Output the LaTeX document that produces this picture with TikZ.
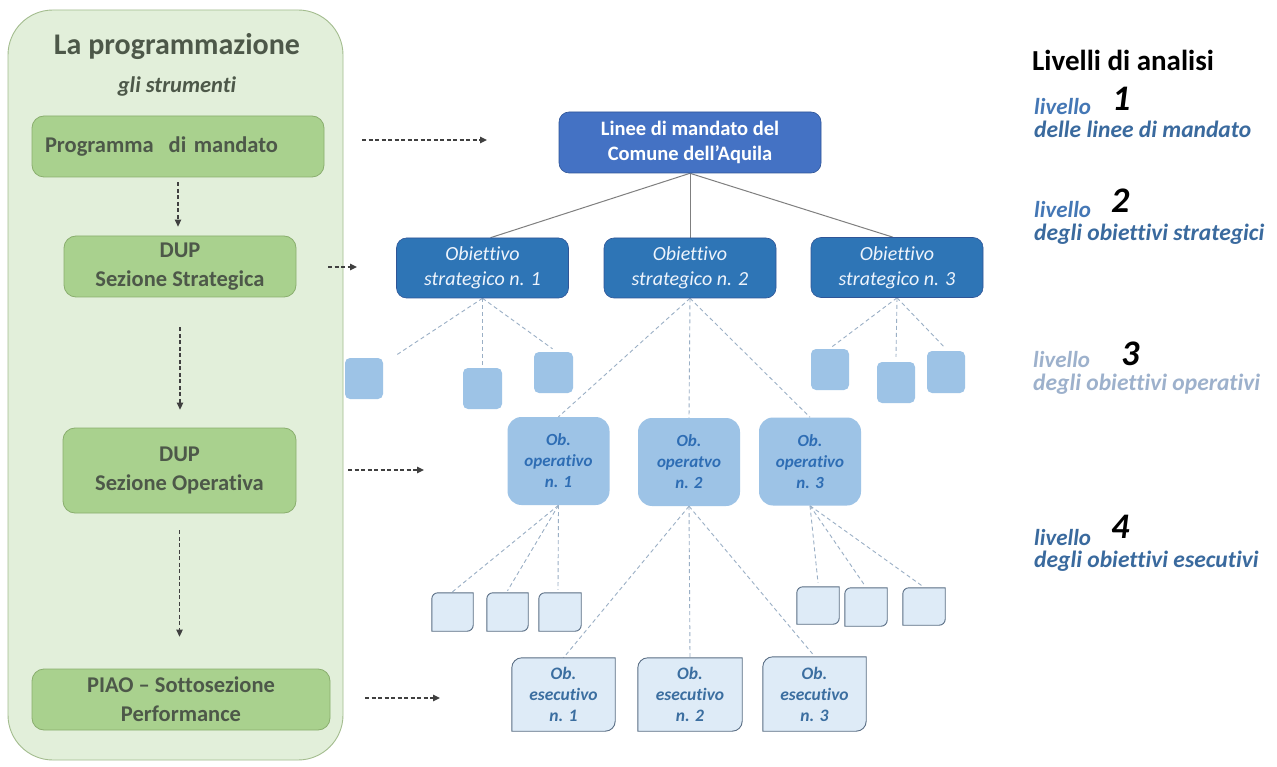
\documentclass[tikz,border=0pt]{standalone}
\usepackage{fontspec}
\setmainfont{Carlito}[Ligatures=NoCommon]
\usetikzlibrary{arrows.meta,backgrounds}
\definecolor{panelfill}{HTML}{E2EFDA}
\definecolor{panelline}{HTML}{A3BC8E}
\definecolor{gfill}{HTML}{A9D18E}
\definecolor{gline}{HTML}{8AAE6E}
\definecolor{gtext}{HTML}{4D5849}
\definecolor{topblue}{HTML}{4472C4}
\definecolor{stratblue}{HTML}{2E75B6}
\definecolor{bline}{HTML}{2F5597}
\definecolor{opfill}{HTML}{9DC3E6}
\definecolor{optext}{HTML}{2E6DB4}
\definecolor{exfill}{HTML}{DEEBF7}
\definecolor{exline}{HTML}{5A6E85}
\definecolor{extext}{HTML}{3B6EA0}
\definecolor{dashc}{HTML}{9AAFC5}
\definecolor{solidc}{HTML}{7F7F7F}
\definecolor{arrc}{HTML}{404040}
\definecolor{lvlA}{HTML}{4477B5}
\definecolor{lvlB}{HTML}{3A6A9E}
\definecolor{lvlC}{HTML}{9DB1CC}
\definecolor{stext}{HTML}{EEF4FC}
\newcommand\diagrect[3]{%
  \path[#1] ([yshift=-#3]#2.north west) arc[start angle=180,end angle=90,radius=#3]
    -- (#2.north east) -- ([yshift=#3]#2.south east)
    arc[start angle=0,end angle=-90,radius=#3] -- (#2.south west) -- cycle;}
\tikzset{
  panel/.style={draw=panelline, fill=panelfill, line width=0.9pt, rounded corners=45pt,
    minimum width=335pt, minimum height=750pt, inner sep=0pt},
  ttl/.style={text=gtext, font=\fontsize{30}{34}\selectfont\bfseries, inner sep=0pt},
  subttl/.style={text=gtext, font=\fontsize{22.5}{26}\selectfont\bfseries\itshape, inner sep=0pt},
  gbox/.style={draw=gline, fill=gfill, line width=0.8pt, rounded corners=12pt, text=gtext,
    font=\fontsize{22.5}{29}\selectfont\bfseries, align=center, inner sep=0pt, minimum height=61pt},
  topbox/.style={draw=bline, fill=topblue, line width=0.6pt, rounded corners=10pt, text=white,
    font=\fontsize{20.5}{25}\selectfont\bfseries, align=center, inner sep=0pt,
    minimum width=262pt, minimum height=61pt},
  sbox/.style={draw=bline, fill=stratblue, line width=0.6pt, rounded corners=10pt, text=stext,
    font=\fontsize{20}{25}\selectfont\itshape, align=center, inner sep=0pt,
    minimum width=172pt, minimum height=60pt},
  opbox/.style={fill=opfill, rounded corners=14pt, text=optext,
    font=\fontsize{17}{21}\selectfont\bfseries\itshape, align=center, inner sep=0pt,
    minimum width=102pt, minimum height=88pt},
  msq/.style={fill=opfill, rounded corners=5pt, minimum width=38pt, minimum height=41pt, inner sep=0pt},
  lsq/.style={minimum width=42pt, minimum height=38pt, inner sep=0pt},
  exbox/.style={text=extext, font=\fontsize{17.5}{21}\selectfont\bfseries\itshape, align=center,
    inner sep=0pt, minimum width=103pt, minimum height=73pt},
  exshape/.style={draw=exline, fill=exfill, line width=0.9pt},
  dcon/.style={draw=dashc, line width=0.9pt, dash pattern=on 4pt off 3pt},
  scon/.style={draw=solidc, line width=1pt},
  darr/.style={draw=arrc, line width=1.3pt, dash pattern=on 4pt off 2.5pt,
    -{Triangle[length=7pt,width=6.5pt]}},
  lvtitle/.style={anchor=base west, inner sep=0pt, font=\fontsize{29}{32}\selectfont\bfseries},
  lvw/.style={anchor=base west, inner sep=0pt, font=\fontsize{23}{26}\selectfont\bfseries\itshape},
  lvn/.style={anchor=base west, inner sep=0pt, font=\fontsize{36}{40}\selectfont\bfseries\itshape},
  lvd/.style={anchor=base west, inner sep=0pt, font=\fontsize{23.5}{27}\selectfont\bfseries\itshape},
}
\begin{document}
\begin{tikzpicture}[x=1pt,y=-1pt]
\useasboundingbox (0,0) rectangle (1277,767);

% ---- left column nodes
\node[ttl] (title) at (177,47) {La programmazione};
\node[subttl] (subt) at (177,87) {gli strumenti};
\node[gbox, minimum width=292pt, text width=266pt, inner xsep=13pt, align=left] (pm) at (178,146.5) {Programma\ \ di mandato};
\node[gbox, minimum width=232pt] (ss) at (180,266.5) {DUP\\Sezione Strategica};
\node[gbox, minimum width=233pt, minimum height=85pt] (so) at (179.5,470.5) {DUP\\Sezione Operativa};
\node[gbox, minimum width=298pt] (piao) at (181,699.5) {PIAO – Sottosezione\\Performance};

% ---- tree nodes
\node[topbox] (top) at (690,142.5) {Linee di mandato del\\Comune dell’Aquila};
\node[sbox] (s1) at (482.5,268) {Obiettivo\\strategico n. 1};
\node[sbox] (s2) at (690,268) {Obiettivo\\strategico n. 2};
\node[sbox] (s3) at (897,267.5) {Obiettivo\\strategico n. 3};

\node[msq] (qa) at (364,378.5) {};
\node[msq, minimum width=39pt] (qb) at (482.5,388.5) {};
\node[msq, minimum width=39pt] (qc) at (553.5,372.5) {};
\node[msq] (qd) at (830,369.5) {};
\node[msq] (qe) at (896,382.5) {};
\node[msq, minimum height=42pt] (qf) at (946,372) {};

\node[opbox] (op1) at (558.5,461) {Ob.\\operativo\\n. 1};
\node[opbox] (op2) at (689,462) {Ob.\\operatvo\\n. 2};
\node[opbox] (op3) at (810,461.5) {Ob.\\operativo\\n. 3};

\node[lsq, minimum width=41pt] (lj) at (452.5,612) {};
\node[lsq, minimum width=41pt] (lk) at (507.5,612) {};
\node[lsq] (ll) at (560,612) {};
\node[lsq, minimum height=37pt] (lg) at (818,605.5) {};
\node[lsq] (lh) at (866,607) {};
\node[lsq, minimum height=37pt] (li) at (924,606.5) {};

\node[exbox] (ex1) at (563.5,694.5) {Ob.\\esecutivo\\n. 1};
\node[exbox, minimum width=104pt] (ex2) at (690,694.5) {Ob.\\esecutivo\\n. 2};
\node[exbox, minimum height=74pt] (ex3) at (814.5,694) {Ob.\\esecutivo\\n. 3};

% ---- background: panel, connectors, shapes
\begin{scope}[on background layer]
  \fill[white] (0,0) rectangle (1277,767);
  \node[panel] (pan) at (175.5,385) {};
  \draw[scon] (top.south) -- ([xshift=8pt]s1.north);
  \draw[scon] (top.south) -- (s2.north);
  \draw[scon] (top.south) -- ([xshift=-4pt]s3.north);

  \draw[dcon] (s1.south) -- ([xshift=12pt,yshift=2pt]qa.north east);
  \draw[dcon] (s1.south) -- ([yshift=3pt]qb.north);
  \draw[dcon] (s1.south) -- ([xshift=-1pt,yshift=3pt]qc.north);
  \draw[dcon] (s3.south) -- ([xshift=2pt,yshift=2pt]qd.north);
  \draw[dcon] (s3.south) -- ([yshift=5pt]qe.north);
  \draw[dcon] (s3.south) -- ([xshift=-2pt,yshift=4pt]qf.north);

  \draw[dcon] (s2.south) -- (op1.north);
  \draw[dcon] (s2.south) -- (op2.north);
  \draw[dcon] (s2.south) -- (op3.north);

  \draw[dcon] (op1.south) -- ([yshift=1pt]lj.north);
  \draw[dcon] (op1.south) -- ([yshift=2pt]lk.north);
  \draw[dcon] (op1.south) -- ([xshift=-2pt,yshift=3pt]ll.north);
  \draw[dcon] (op3.south) -- ([yshift=4pt]lg.north);
  \draw[dcon] (op3.south) -- ([xshift=-1pt,yshift=2pt]lh.north);
  \draw[dcon] (op3.south) -- ([xshift=-2pt,yshift=2pt]li.north);

  \draw[dcon] (op2.south) -- (ex1.north);
  \draw[dcon] (op2.south) -- (ex2.north);
  \draw[dcon] (op2.south) -- ([xshift=-2pt,yshift=3pt]ex3.north);

  \diagrect{exshape}{lj}{6pt}
  \diagrect{exshape}{lk}{6pt}
  \diagrect{exshape}{ll}{6pt}
  \diagrect{exshape}{lg}{6pt}
  \diagrect{exshape}{lh}{6pt}
  \diagrect{exshape}{li}{6pt}
  \diagrect{exshape}{ex1}{10pt}
  \diagrect{exshape}{ex2}{10pt}
  \diagrect{exshape}{ex3}{10pt}
\end{scope}

% ---- dashed arrows
\draw[darr] ([yshift=-5pt]pm.south) -- ([yshift=9pt]pm.south |- ss.north);
\draw[darr] ([yshift=-30pt]ss.south) -- ([yshift=18pt]ss.south |- so.north);
\draw[darr] ([yshift=-17pt]so.south) -- ([yshift=32pt]so.south |- piao.north);

\coordinate (h1s) at (362,140); \coordinate (h1e) at (487,140);
\coordinate (h2s) at (328,267); \coordinate (h2e) at (357,267);
\coordinate (h3s) at (348,470); \coordinate (h3e) at (424,470);
\coordinate (h4s) at (365,698); \coordinate (h4e) at (440,698);
\draw[darr] (h1s) -- (h1e);
\draw[darr] (h2s) -- (h2e);
\draw[darr] (h3s) -- (h3e);
\draw[darr] (h4s) -- (h4e);

% ---- right column labels
\node[lvtitle] (lt) at (1032,71) {Livelli di analisi};
\node[lvw, text=lvlA] (l1a) at (1034,115) {livello};
\node[lvn] (l1n) at (1112,111) {1};
\node[lvd, text=lvlB] (l1b) at (1034,138) {delle linee di mandato};
\node[lvw, text=lvlA] (l2a) at (1034,218) {livello};
\node[lvn] (l2n) at (1111,213) {2};
\node[lvd, text=lvlB] (l2b) at (1034,241) {degli obiettivi strategici};
\node[lvw, text=lvlC] (l3a) at (1033,367) {livello};
\node[lvn] (l3n) at (1121,365) {3};
\node[lvd, text=lvlC] (l3b) at (1033,390) {degli obiettivi operativi};
\node[lvw, text=lvlB] (l4a) at (1034,545) {livello};
\node[lvn] (l4n) at (1111,538) {4};
\node[lvd, text=lvlB] (l4b) at (1034,567) {degli obiettivi esecutivi};
\end{tikzpicture}
\end{document}
